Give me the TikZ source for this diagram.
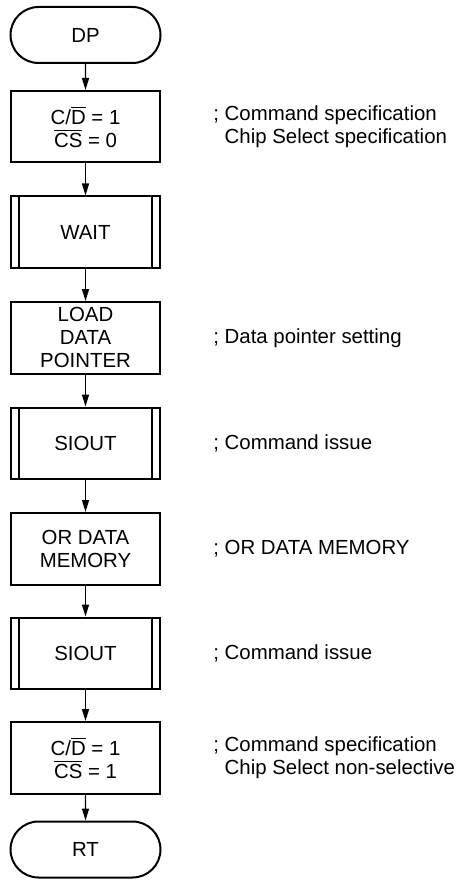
\documentclass[tikz,border=0pt]{standalone}
\usepackage{fontspec}
\setmainfont{Liberation Sans}
\usetikzlibrary{positioning,shapes.misc,arrows.meta}

\newcommand{\ovl}[1]{$\overline{\mbox{#1}}$}

\tikzset{
  proc/.style={draw, line width=1pt, minimum width=74.5pt, minimum height=35.75pt,
    align=center, inner sep=0pt},
  term/.style={draw, line width=1pt, rounded rectangle, minimum width=75pt,
    minimum height=28pt, inner sep=0pt},
  note/.style={align=left, anchor=west, inner sep=0pt},
  flow/.style={-{Triangle[length=6pt,width=3.5pt]}, line width=0.7pt},
}

\begin{document}
\begin{tikzpicture}[font=\fontsize{10.2}{11.5}\selectfont, node distance=16pt]
\useasboundingbox (0,0) rectangle (230pt,-441pt);

% flow
\node[term] (dp) at (42.75pt,-17.5pt) {DP};
\node[proc, below=13pt of dp] (cd1) {C/\ovl{D} = 1\\\ovl{CS} = 0};
\node[proc, below=of cd1] (wait) {WAIT};
\node[proc, below=of wait] (load) {LOAD\\DATA\\POINTER};
\node[proc, below=of load] (siout1) {SIOUT};
\node[proc, below=of siout1] (ordm) {OR DATA\\MEMORY};
\node[proc, below=15.5pt of ordm] (siout2) {SIOUT};
\node[proc, below=15.5pt of siout2] (cd2) {C/\ovl{D} = 1\\\ovl{CS} = 1};
\node[term, below=13pt of cd2] (rt) {RT};

% side bars
\foreach \n in {wait,siout1,siout2} {
  \draw[line width=1pt] ([xshift=4.5pt]\n.north west) -- ([xshift=4.5pt]\n.south west);
  \draw[line width=1pt] ([xshift=-4.5pt]\n.north east) -- ([xshift=-4.5pt]\n.south east);
}

% arrows
\draw[flow] (dp) -- (cd1);
\draw[flow] (cd1) -- (wait);
\draw[flow] (wait) -- (load);
\draw[flow] (load) -- (siout1);
\draw[flow] (siout1) -- (ordm);
\draw[flow] (ordm) -- (siout2);
\draw[flow] (siout2) -- (cd2);
\draw[flow] (cd2) -- (rt);

% comments
\node[note, right=26pt of cd1] (c1) {; Command specification\\\hphantom{;}\ Chip Select specification};
\node[note, right=26pt of load] (c2) {; Data pointer setting};
\node[note, right=26pt of siout1] (c3) {; Command issue};
\node[note, right=26pt of ordm] (c4) {; OR DATA MEMORY};
\node[note, right=26pt of siout2] (c5) {; Command issue};
\node[note, right=26pt of cd2] (c6) {; Command specification\\\hphantom{;}\ Chip Select non-selective};
\end{tikzpicture}
\end{document}
